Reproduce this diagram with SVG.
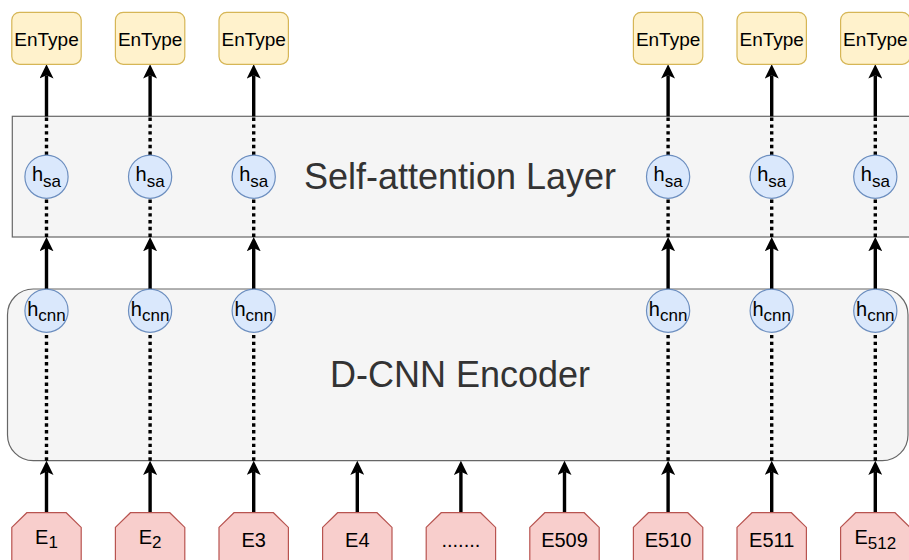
<svg xmlns="http://www.w3.org/2000/svg" width="909" height="560" viewBox="0 0 909 560">
  <style>
    text { font-family: "Liberation Sans", Arial, Helvetica, sans-serif; fill: #000; }
    .layer { fill: #f5f5f5; stroke: #666666; stroke-width: 1.2; }
    .layer-label { font-size: 36px; fill: #333333; text-anchor: middle; }
    .out { fill: #fff2cc; stroke: #d6b656; stroke-width: 1.2; }
    .hid { fill: #dae8fc; stroke: #6c8ebf; stroke-width: 1.2; }
    .emb { fill: #f8cecc; stroke: #b85450; stroke-width: 1.2; }
    .lbl { font-size: 19px; text-anchor: middle; }
    .hlbl { font-size: 20px; text-anchor: middle; }
    .elbl { font-size: 20px; text-anchor: middle; }
    .sub { font-size: 17px; }
    .solid { fill: none; stroke: #000; stroke-width: 3.4; }
    .dot { fill: none; stroke: #000; stroke-width: 3.4; stroke-dasharray: 3.4 3.4; }
  </style>
  <defs>
    <marker id="arrow" viewBox="-3.3 -7 14.3 14" markerWidth="14.3" markerHeight="14" refX="0" refY="0" markerUnits="userSpaceOnUse" orient="auto">
      <path d="M -3.3 -7 L 11 0 L -3.3 7 L 0 0 Z" fill="#000"/>
    </marker>
    <!-- octagon input token; lower chamfer falls below the canvas -->
    <polygon id="embShape" points="-34.7,14.7 -19.7,0 19.7,0 34.7,14.7 34.7,55.3 19.7,70 -19.7,70 -34.7,55.3"/>
  </defs>

  <!-- layer containers -->
  <g id="self-attention-layer">
    <rect class="layer" x="12.3" y="116.3" width="910" height="120.7"/>
    <text class="layer-label" x="460" y="189">Self-attention Layer</text>
  </g>
  <g id="dcnn-encoder">
    <rect class="layer" x="7.5" y="289" width="900.5" height="171.7" rx="25.75" ry="25.75"/>
    <text class="layer-label" x="460" y="387.3">D-CNN Encoder</text>
  </g>

  <!-- connectors -->
  <g id="connectors">
    <!-- columns with hidden states -->
    <g id="col-1">
      <path class="solid" d="M 46.5 512.7 V 471.7" marker-end="url(#arrow)"/>
      <path class="dot" d="M 46.5 460.7 V 332.3"/>
      <path class="solid" d="M 46.5 289 V 248" marker-end="url(#arrow)"/>
      <path class="dot" d="M 46.5 237 V 198.3"/>
      <path class="dot" d="M 46.5 155 V 116.3"/>
      <path class="solid" d="M 46.5 116.3 V 75.3" marker-end="url(#arrow)"/>
    </g>
    <g id="col-2">
      <path class="solid" d="M 150.1 512.7 V 471.7" marker-end="url(#arrow)"/>
      <path class="dot" d="M 150.1 460.7 V 332.3"/>
      <path class="solid" d="M 150.1 289 V 248" marker-end="url(#arrow)"/>
      <path class="dot" d="M 150.1 237 V 198.3"/>
      <path class="dot" d="M 150.1 155 V 116.3"/>
      <path class="solid" d="M 150.1 116.3 V 75.3" marker-end="url(#arrow)"/>
    </g>
    <g id="col-3">
      <path class="solid" d="M 253.7 512.7 V 471.7" marker-end="url(#arrow)"/>
      <path class="dot" d="M 253.7 460.7 V 332.3"/>
      <path class="solid" d="M 253.7 289 V 248" marker-end="url(#arrow)"/>
      <path class="dot" d="M 253.7 237 V 198.3"/>
      <path class="dot" d="M 253.7 155 V 116.3"/>
      <path class="solid" d="M 253.7 116.3 V 75.3" marker-end="url(#arrow)"/>
    </g>
    <!-- inputs feeding the encoder only -->
    <path class="solid" d="M 357.3 512.7 V 471.7" marker-end="url(#arrow)"/>
    <path class="solid" d="M 460.9 512.7 V 471.7" marker-end="url(#arrow)"/>
    <path class="solid" d="M 564.5 512.7 V 471.7" marker-end="url(#arrow)"/>
    <g id="col-7">
      <path class="solid" d="M 668.1 512.7 V 471.7" marker-end="url(#arrow)"/>
      <path class="dot" d="M 668.1 460.7 V 332.3"/>
      <path class="solid" d="M 668.1 289 V 248" marker-end="url(#arrow)"/>
      <path class="dot" d="M 668.1 237 V 198.3"/>
      <path class="dot" d="M 668.1 155 V 116.3"/>
      <path class="solid" d="M 668.1 116.3 V 75.3" marker-end="url(#arrow)"/>
    </g>
    <g id="col-8">
      <path class="solid" d="M 771.7 512.7 V 471.7" marker-end="url(#arrow)"/>
      <path class="dot" d="M 771.7 460.7 V 332.3"/>
      <path class="solid" d="M 771.7 289 V 248" marker-end="url(#arrow)"/>
      <path class="dot" d="M 771.7 237 V 198.3"/>
      <path class="dot" d="M 771.7 155 V 116.3"/>
      <path class="solid" d="M 771.7 116.3 V 75.3" marker-end="url(#arrow)"/>
    </g>
    <g id="col-9">
      <path class="solid" d="M 875.3 512.7 V 471.7" marker-end="url(#arrow)"/>
      <path class="dot" d="M 875.3 460.7 V 332.3"/>
      <path class="solid" d="M 875.3 289 V 248" marker-end="url(#arrow)"/>
      <path class="dot" d="M 875.3 237 V 198.3"/>
      <path class="dot" d="M 875.3 155 V 116.3"/>
      <path class="solid" d="M 875.3 116.3 V 75.3" marker-end="url(#arrow)"/>
    </g>
  </g>

  <!-- output type boxes -->
  <g id="entype-1"><rect class="out" x="11.8" y="12.3" width="69.4" height="52" rx="7.8"/><text class="lbl" x="46.5" y="45.8">EnType</text></g>
  <g id="entype-2"><rect class="out" x="115.4" y="12.3" width="69.4" height="52" rx="7.8"/><text class="lbl" x="150.1" y="45.8">EnType</text></g>
  <g id="entype-3"><rect class="out" x="219" y="12.3" width="69.4" height="52" rx="7.8"/><text class="lbl" x="253.7" y="45.8">EnType</text></g>
  <g id="entype-7"><rect class="out" x="633.4" y="12.3" width="69.4" height="52" rx="7.8"/><text class="lbl" x="668.1" y="45.8">EnType</text></g>
  <g id="entype-8"><rect class="out" x="737" y="12.3" width="69.4" height="52" rx="7.8"/><text class="lbl" x="771.7" y="45.8">EnType</text></g>
  <g id="entype-9"><rect class="out" x="840.6" y="12.3" width="69.4" height="52" rx="7.8"/><text class="lbl" x="875.3" y="45.8">EnType</text></g>

  <!-- self-attention states -->
  <g id="hsa-1"><circle class="hid" cx="46.5" cy="176.7" r="21.6"/><text class="hlbl" x="46.5" y="181">h<tspan class="sub" dy="6">sa</tspan></text></g>
  <g id="hsa-2"><circle class="hid" cx="150.1" cy="176.7" r="21.6"/><text class="hlbl" x="150.1" y="181">h<tspan class="sub" dy="6">sa</tspan></text></g>
  <g id="hsa-3"><circle class="hid" cx="253.7" cy="176.7" r="21.6"/><text class="hlbl" x="253.7" y="181">h<tspan class="sub" dy="6">sa</tspan></text></g>
  <g id="hsa-7"><circle class="hid" cx="668.1" cy="176.7" r="21.6"/><text class="hlbl" x="668.1" y="181">h<tspan class="sub" dy="6">sa</tspan></text></g>
  <g id="hsa-8"><circle class="hid" cx="771.7" cy="176.7" r="21.6"/><text class="hlbl" x="771.7" y="181">h<tspan class="sub" dy="6">sa</tspan></text></g>
  <g id="hsa-9"><circle class="hid" cx="875.3" cy="176.7" r="21.6"/><text class="hlbl" x="875.3" y="181">h<tspan class="sub" dy="6">sa</tspan></text></g>

  <!-- encoder states -->
  <g id="hcnn-1"><circle class="hid" cx="46.5" cy="310.7" r="21.6"/><text class="hlbl" x="46.5" y="315.5">h<tspan class="sub" dy="5">cnn</tspan></text></g>
  <g id="hcnn-2"><circle class="hid" cx="150.1" cy="310.7" r="21.6"/><text class="hlbl" x="150.1" y="315.5">h<tspan class="sub" dy="5">cnn</tspan></text></g>
  <g id="hcnn-3"><circle class="hid" cx="253.7" cy="310.7" r="21.6"/><text class="hlbl" x="253.7" y="315.5">h<tspan class="sub" dy="5">cnn</tspan></text></g>
  <g id="hcnn-7"><circle class="hid" cx="668.1" cy="310.7" r="21.6"/><text class="hlbl" x="668.1" y="315.5">h<tspan class="sub" dy="5">cnn</tspan></text></g>
  <g id="hcnn-8"><circle class="hid" cx="771.7" cy="310.7" r="21.6"/><text class="hlbl" x="771.7" y="315.5">h<tspan class="sub" dy="5">cnn</tspan></text></g>
  <g id="hcnn-9"><circle class="hid" cx="875.3" cy="310.7" r="21.6"/><text class="hlbl" x="875.3" y="315.5">h<tspan class="sub" dy="5">cnn</tspan></text></g>

  <!-- input embeddings -->
  <g id="emb-1"><use href="#embShape" class="emb" x="46.5" y="512.7"/><text class="elbl" x="46.5" y="544.3">E<tspan class="sub" dy="4">1</tspan></text></g>
  <g id="emb-2"><use href="#embShape" class="emb" x="150.1" y="512.7"/><text class="elbl" x="150.1" y="544.3">E<tspan class="sub" dy="4">2</tspan></text></g>
  <g id="emb-3"><use href="#embShape" class="emb" x="253.7" y="512.7"/><text class="elbl" x="253.7" y="546.6">E3</text></g>
  <g id="emb-4"><use href="#embShape" class="emb" x="357.3" y="512.7"/><text class="elbl" x="357.3" y="546.6">E4</text></g>
  <g id="emb-gap"><use href="#embShape" class="emb" x="460.9" y="512.7"/><text class="elbl" x="460.9" y="546.6">.......</text></g>
  <g id="emb-509"><use href="#embShape" class="emb" x="564.5" y="512.7"/><text class="elbl" x="564.5" y="546.6">E509</text></g>
  <g id="emb-510"><use href="#embShape" class="emb" x="668.1" y="512.7"/><text class="elbl" x="668.1" y="546.6">E510</text></g>
  <g id="emb-511"><use href="#embShape" class="emb" x="771.7" y="512.7"/><text class="elbl" x="771.7" y="546.6">E511</text></g>
  <g id="emb-512"><use href="#embShape" class="emb" x="875.3" y="512.7"/><text class="elbl" x="875.3" y="544">E<tspan class="sub" dy="5">512</tspan></text></g>
</svg>
